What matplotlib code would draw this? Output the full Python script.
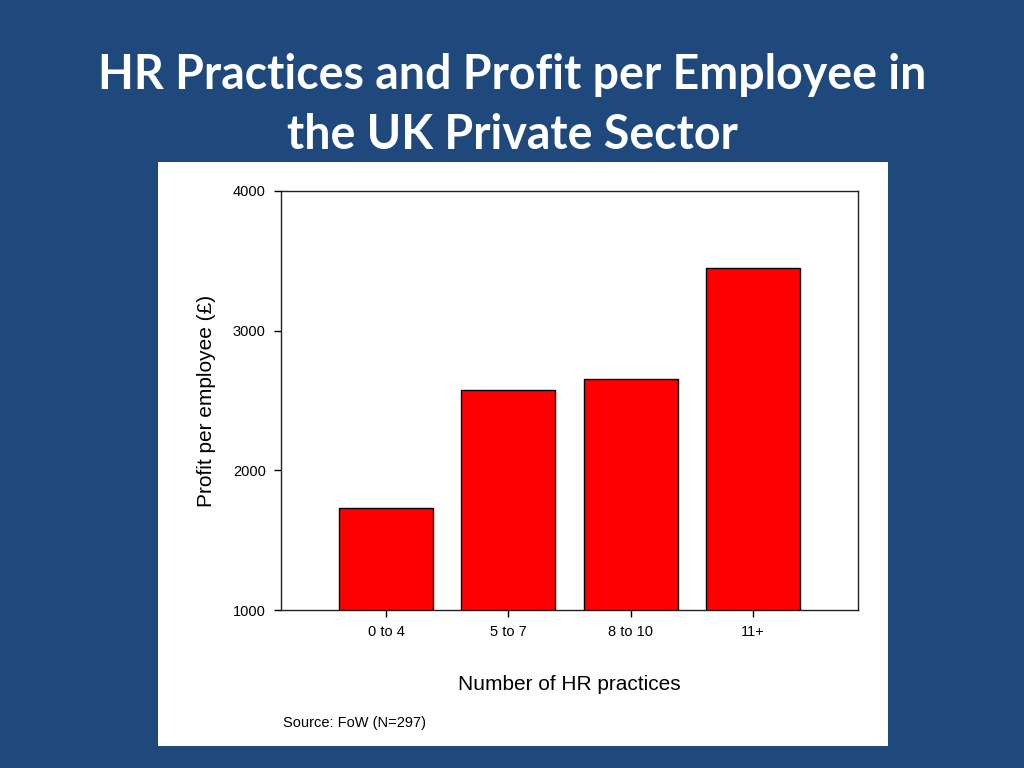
import matplotlib
matplotlib.use("Agg")
from matplotlib import pyplot

# data
categories = ['0 to 4', '5 to 7', '8 to 10', '11+']
profit = [1730, 2575, 2655, 3450]
yticks = [1000, 2000, 3000, 4000]

BG = '#1f497d'

pyplot.rcParams['font.family'] = ['Liberation Sans', 'DejaVu Sans']

fig = pyplot.figure(figsize=(10.24, 7.68), dpi=100)
fig.patch.set_facecolor(BG)

# white panel behind the chart
panel = fig.add_axes([158/1024, 1 - 746/768, (888-158)/1024, (746-162)/768], zorder=0)
panel.set_facecolor('white')
panel.set_xticks([])
panel.set_yticks([])
for s in panel.spines.values():
    s.set_visible(False)

fig.text(0.5, 1 - 75/768, 'HR Practices and Profit per Employee in', ha='center', va='center',
         color='white', fontsize=33.5, fontweight='bold', family=['Lato', 'DejaVu Sans'])
fig.text(0.5, 1 - 135/768, 'the UK Private Sector', ha='center', va='center',
         color='white', fontsize=33.5, fontweight='bold', family=['Lato', 'DejaVu Sans'])

ax = fig.add_axes([281/1024, 1 - 610/768, (858-281)/1024, (610-191)/768], zorder=2)
ax.set_facecolor('white')
x = list(range(len(categories)))
ax.bar(x, profit, width=0.77, color='#ff0000', edgecolor='black', linewidth=1.0, zorder=2)

ax.set_xlim(-0.86, 3.86)
ax.set_ylim(1000, 4000)
ax.set_yticks(yticks)
ax.set_yticklabels([str(t) for t in yticks], fontsize=10.5)
ax.set_xticks(x)
ax.set_xticklabels(categories, fontsize=10.5)
ax.tick_params(direction='out', length=5, width=1, colors='black', pad=6)
for s in ax.spines.values():
    s.set_linewidth(1.0)
    s.set_color('#222222')

ax.set_ylabel('Profit per employee (£)', fontsize=15, labelpad=12)
ax.set_xlabel('Number of HR practices', fontsize=15, labelpad=26)

fig.text(283/1024, 1 - 723/768, 'Source: FoW (N=297)', fontsize=10.5, va='center', ha='left',
         zorder=3)

fig.savefig('out.png', dpi=100, facecolor=BG)
